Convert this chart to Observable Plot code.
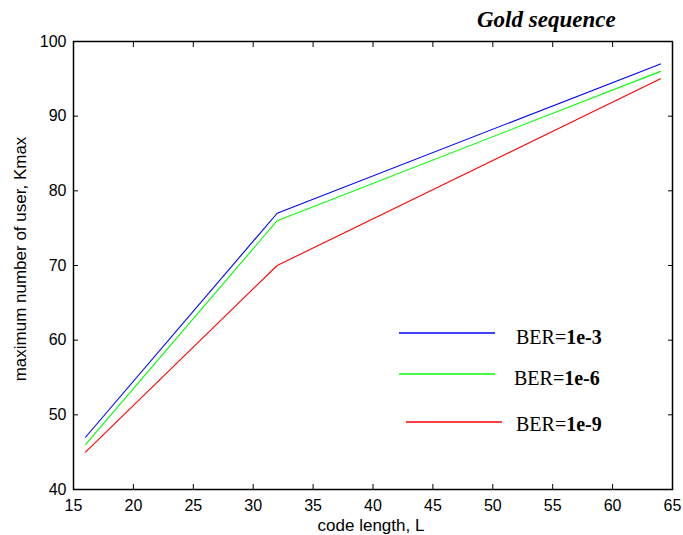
<!DOCTYPE html>
<html>
<head>
<meta charset="utf-8">
<script src="https://cdn.jsdelivr.net/npm/d3@7"></script>
<script src="https://cdn.jsdelivr.net/npm/@observablehq/plot@0.6"></script>
<style>
  html, body { margin: 0; padding: 0; background: #fff; overflow: hidden; }
  #chart svg { display: block; }
</style>
</head>
<body>
<div id="chart"></div>
<script>
// Code length L and the maximum number of users for three BER targets
const codeLength = [16, 32, 64];
const kmaxBer1e3 = [47, 77, 97];
const kmaxBer1e6 = [46, 76, 96];
const kmaxBer1e9 = [45, 70, 95];
const seriesNames = ["1e-3", "1e-6", "1e-9"];
const seriesColors = ["#0000ff", "#00ff00", "#ff0000"];
const xTicks = [15, 20, 25, 30, 35, 40, 45, 50, 55, 60, 65];
const yTicks = [40, 50, 60, 70, 80, 90, 100];

const seriesValues = [kmaxBer1e3, kmaxBer1e6, kmaxBer1e9];
const rows = seriesNames.flatMap((name, i) =>
  codeLength.map((L, j) => ({L, kmax: seriesValues[i][j], ber: name}))
);

const font = "'Liberation Sans', Arial, sans-serif";
const serif = "'Liberation Serif', 'Times New Roman', serif";

const plot = Plot.plot({
  width: 683,
  height: 535,
  marginLeft: 73,
  marginRight: 11,
  marginTop: 41,
  marginBottom: 46,
  style: {fontFamily: font, fontSize: "16px", color: "#000", background: "#fff", overflow: "visible"},
  x: {domain: [15, 65]},
  y: {domain: [40, 100]},
  color: {domain: seriesNames, range: seriesColors},
  marks: [
    Plot.line(rows, {x: "L", y: "kmax", z: "ber", stroke: "ber", strokeWidth: 1.1}),
    Plot.frame({stroke: "#000", strokeWidth: 1.5}),
    Plot.axisX({ticks: xTicks, tickSize: -5, tickPadding: 15, fontSize: 16, label: null}),
    Plot.axisX({anchor: "top", ticks: xTicks, tickSize: -5, tickFormat: () => "", label: null}),
    Plot.axisY({ticks: yTicks, tickSize: -5, tickPadding: 12, fontSize: 16, label: null}),
    Plot.axisY({anchor: "right", ticks: yTicks, tickSize: -5, tickFormat: () => "", label: null})
  ]
});

document.getElementById("chart").appendChild(plot);

// Axis titles, chart title and legend drawn on top of the plot
const svg = d3.select(plot);
svg.append("text")
  .attr("x", 371).attr("y", 531)
  .attr("text-anchor", "middle")
  .style("font-family", font).style("font-size", "17px")
  .text("code length, L");
svg.append("text")
  .attr("transform", "translate(26,259) rotate(-90)")
  .attr("text-anchor", "middle")
  .style("font-family", font).style("font-size", "17px")
  .text("maximum number of user, Kmax");

svg.append("text")
  .attr("x", 477)
  .attr("y", 27)
  .attr("text-anchor", "start")
  .style("font-family", serif)
  .style("font-size", "23px")
  .style("font-weight", "bold")
  .style("font-style", "italic")
  .text("Gold sequence");

const legendItems = [
  {x1: 399, x2: 495, y: 333, tx: 516, ty: 344},
  {x1: 399, x2: 495, y: 374, tx: 514, ty: 385},
  {x1: 406, x2: 502, y: 422, tx: 516, ty: 431}
];
const legend = svg.append("g");
seriesNames.forEach((name, i) => {
  const p = legendItems[i];
  legend.append("line")
    .attr("x1", p.x1).attr("x2", p.x2)
    .attr("y1", p.y).attr("y2", p.y)
    .attr("stroke", seriesColors[i])
    .attr("stroke-width", 1.3);
  const t = legend.append("text")
    .attr("x", p.tx).attr("y", p.ty)
    .attr("text-anchor", "start")
    .style("font-family", serif)
    .style("font-size", "20px");
  t.append("tspan").text("BER=");
  t.append("tspan").style("font-weight", "bold").text(name);
});
</script>
</body>
</html>
